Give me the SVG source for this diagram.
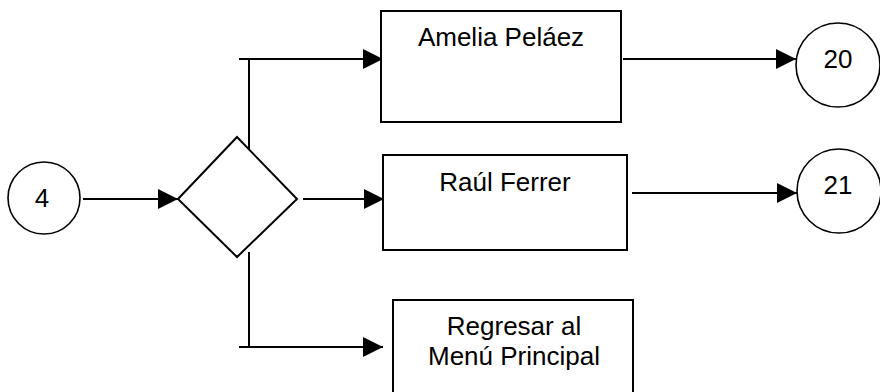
<svg xmlns="http://www.w3.org/2000/svg" width="880" height="392" viewBox="0 0 880 392">
  <style>
    .box { fill: #ffffff; stroke: #000000; stroke-width: 2; }
    .ring { fill: #ffffff; stroke: #000000; stroke-width: 1.6; }
    .wire { fill: none; stroke: #000000; stroke-width: 2; }
    .label { font-family: "Liberation Sans", Arial, sans-serif; font-size: 26px; fill: #000000; text-anchor: middle; }
  </style>
  <defs>
    <marker id="arrow" viewBox="0 0 20 20" refX="20" refY="10" markerWidth="20" markerHeight="20" markerUnits="userSpaceOnUse" orient="auto">
      <path d="M0,0 L20,10 L0,20 Z" fill="#000000"/>
    </marker>
  </defs>

  <rect width="880" height="392" fill="#ffffff"/>

  <!-- connectors -->
  <g id="connectors">
    <line class="wire" x1="83" y1="199" x2="178" y2="199" marker-end="url(#arrow)"/>
    <polyline class="wire" points="249,155 249,59"/>
    <line class="wire" x1="239" y1="59" x2="383" y2="59" marker-end="url(#arrow)"/>
    <line class="wire" x1="303" y1="199" x2="384" y2="199" marker-end="url(#arrow)"/>
    <polyline class="wire" points="249,252 249,347"/>
    <line class="wire" x1="239" y1="347" x2="383" y2="347" marker-end="url(#arrow)"/>
    <line class="wire" x1="623" y1="59" x2="796" y2="59" marker-end="url(#arrow)"/>
    <line class="wire" x1="632" y1="193" x2="797" y2="193" marker-end="url(#arrow)"/>
  </g>

  <!-- start connector circle -->
  <g id="node-4">
    <circle class="ring" cx="44" cy="198" r="36"/>
    <text class="label" x="42" y="207">4</text>
  </g>

  <!-- decision -->
  <g id="decision">
    <polygon class="box" points="178,199 237,137 297,199 237,257"/>
  </g>

  <g id="amelia">
    <rect class="box" x="381" y="11" width="240" height="111"/>
    <text class="label" x="501" y="46">Amelia Peláez</text>
  </g>

  <g id="raul">
    <rect class="box" x="383" y="155" width="244" height="95"/>
    <text class="label" x="505" y="191">Raúl Ferrer</text>
  </g>

  <g id="regresar">
    <rect class="box" x="393" y="300" width="240" height="110"/>
    <text class="label" x="514" y="335">Regresar al</text>
    <text class="label" x="514" y="365">Menú Principal</text>
  </g>

  <g id="node-20">
    <circle class="ring" cx="838" cy="65" r="42"/>
    <text class="label" x="838" y="68">20</text>
  </g>

  <g id="node-21">
    <circle class="ring" cx="839" cy="191" r="42"/>
    <text class="label" x="838" y="194">21</text>
  </g>
</svg>
